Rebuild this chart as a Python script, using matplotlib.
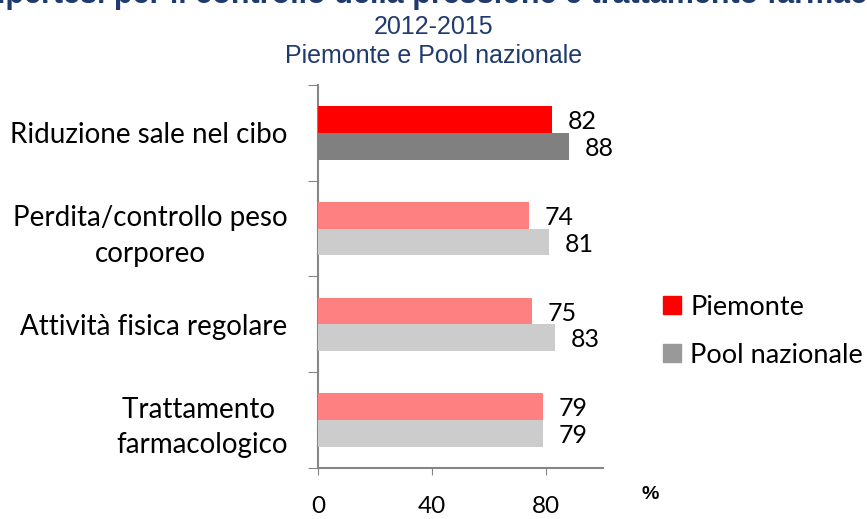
import numpy as np
import matplotlib.pyplot as plt
import matplotlib.patches as mpatches

plt.rcParams["font.family"] = ["Lato", "DejaVu Sans"]

categories = ["Riduzione sale nel cibo", "Perdita/controllo peso\ncorporeo",
              "Attività fisica regolare", "Trattamento \nfarmacologico"]
piemonte = [82, 74, 75, 79]
pool = [88, 81, 83, 79]
series_names = ["Piemonte", "Pool nazionale"]

red_strong, red_light = "#FF0000", "#FF8080"
grey_strong, grey_light = "#808080", "#CCCCCC"
axis_col = "#868686"
title_col = "#1F3A6E"

fig = plt.figure(figsize=(8.67, 5.19), dpi=100, facecolor="white")
ax = fig.add_axes([0.3668, 0.0983, 0.3287, 0.7379])

y = np.arange(len(categories))
h = 0.28
for i in y:
    c1 = red_strong if i == 0 else red_light
    c2 = grey_strong if i == 0 else grey_light
    ax.barh(i - h / 2, piemonte[i], height=h, color=c1, zorder=3)
    ax.barh(i + h / 2, pool[i], height=h, color=c2, zorder=3)
    ax.annotate(str(piemonte[i]), (piemonte[i], i - h / 2), xytext=(11.5, -1.5),
                textcoords="offset points", va="center", ha="left",
                fontsize=18, color="black")
    ax.annotate(str(pool[i]), (pool[i], i + h / 2), xytext=(11.5, -1.5),
                textcoords="offset points", va="center", ha="left",
                fontsize=18, color="black")

ax.set_ylim(len(categories) - 0.5, -0.5)
ax.set_xlim(0, 100)
ax.set_xticks([0, 40, 80])
ax.set_xticklabels(["0", "40", "80"], fontsize=17.5)
ax.tick_params(axis="x", direction="out", length=5, color=axis_col, pad=15)

ax.set_yticks(np.arange(-0.5, len(categories)), minor=False)
ax.set_yticklabels([])
ax.set_yticks(y, minor=True)
ax.set_yticklabels(categories, minor=True, fontsize=20, ha="right",
                   multialignment="center", linespacing=1.45)
ax.tick_params(axis="y", which="major", direction="out", length=7, color=axis_col)
ax.tick_params(axis="y", which="minor", length=0, pad=22)

for s in ["top", "right"]:
    ax.spines[s].set_visible(False)
for s in ["left", "bottom"]:
    ax.spines[s].set_color(axis_col)
    ax.spines[s].set_linewidth(1.5)

fig.text(0.750, 0.048, "%", fontsize=14, fontweight="bold", ha="center",
         va="center", family="Liberation Sans")

handles = [mpatches.Patch(color=red_strong, label=series_names[0]),
           mpatches.Patch(color="#999999", label=series_names[1])]
fig.legend(handles=handles, loc="center left", bbox_to_anchor=(0.765, 0.362),
           frameon=False, fontsize=19.5, handlelength=0.67, handleheight=0.67,
           handletextpad=0.33, labelspacing=0.85, borderaxespad=0, borderpad=0)

fig.text(-0.004, 0.994, "ipertesi per il controllo della pressione e trattamento farmacologico",
         fontsize=22, fontweight="bold", color=title_col, ha="left", va="baseline",
         family="Liberation Sans")
fig.text(0.5, 0.948, "2012-2015", fontsize=18, color=title_col, ha="center",
         va="center", family="Liberation Sans")
fig.text(0.5, 0.893, "Piemonte e Pool nazionale", fontsize=18, color=title_col,
         ha="center", va="center", family="Liberation Sans")

fig.savefig("out.png", dpi=100, facecolor="white")
